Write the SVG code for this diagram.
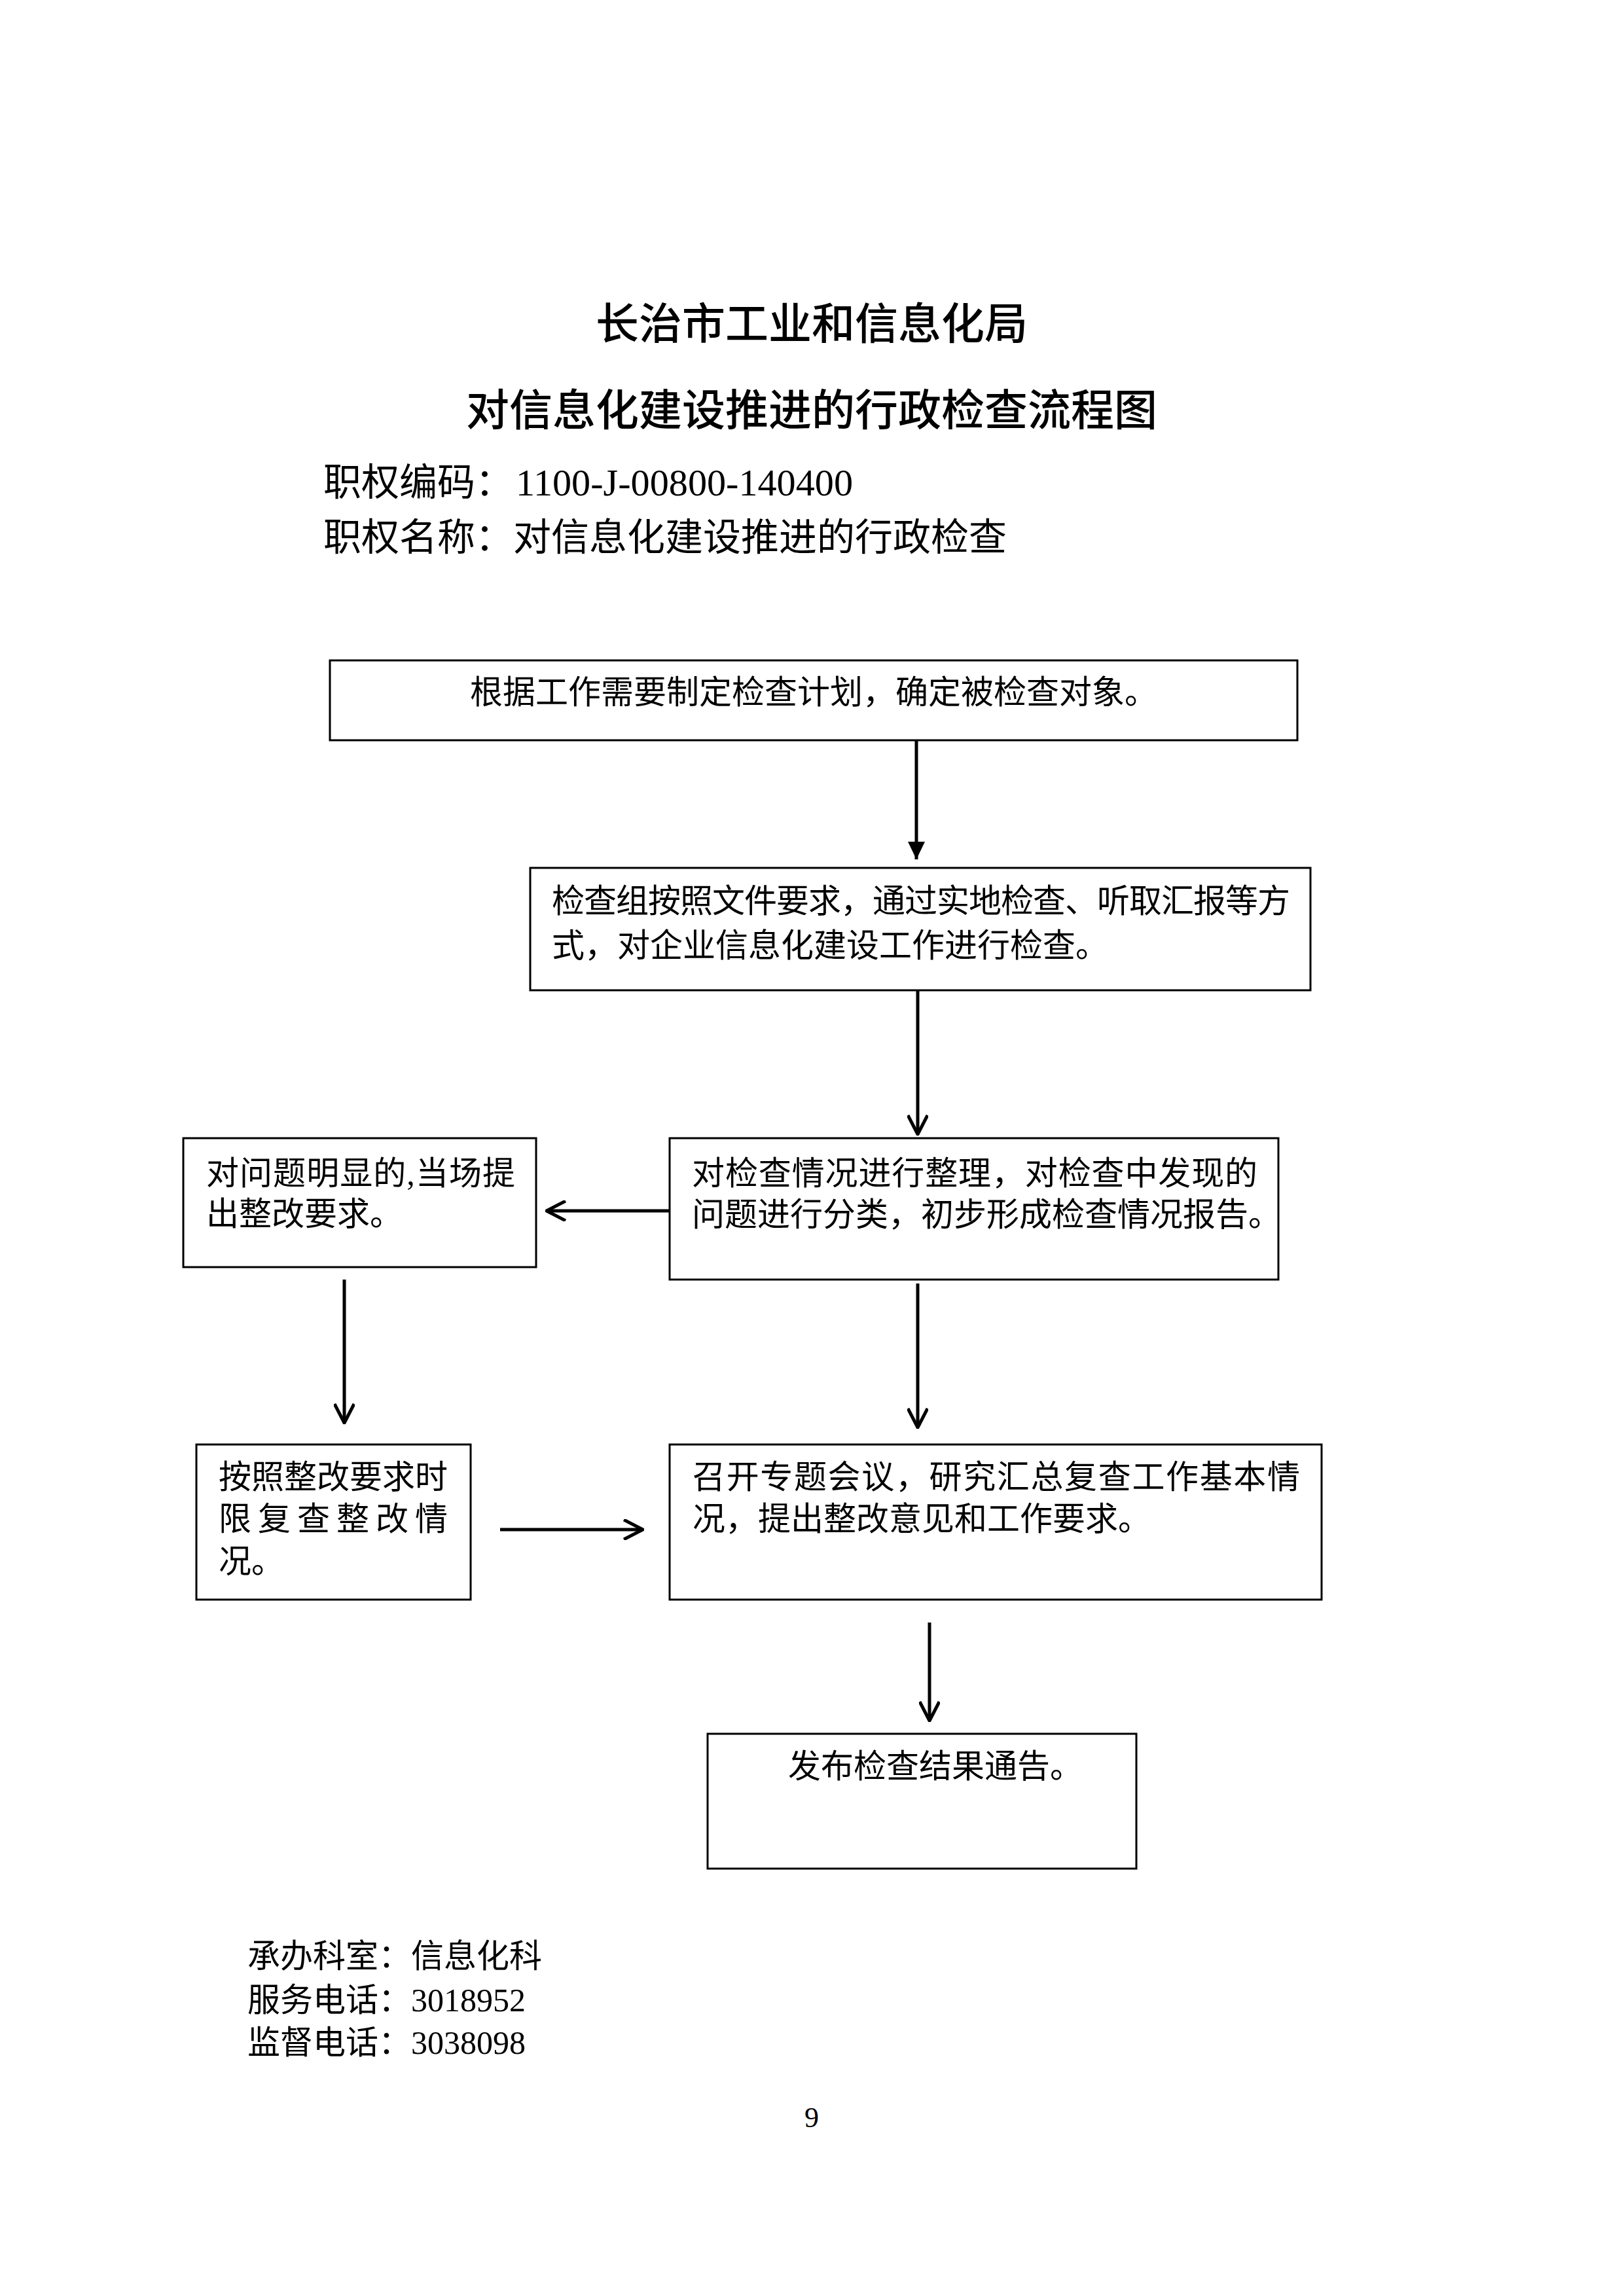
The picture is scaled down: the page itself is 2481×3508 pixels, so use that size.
<svg xmlns="http://www.w3.org/2000/svg" width="2481" height="3508" viewBox="0 0 2481 3508">
<style>
.bg{fill:#ffffff}
.box{fill:#ffffff;stroke:#000000;stroke-width:3}
.t{font-family:"Liberation Serif","Noto Sans CJK SC",serif;font-size:50px;fill:#000000}
.title{font-family:"Noto Sans CJK SC","Liberation Sans",sans-serif;font-size:66px;font-weight:500;fill:#000000;text-anchor:middle}
.sub{font-family:"Liberation Serif","Noto Sans CJK SC",serif;font-size:58px;fill:#000000}
.pg{font-family:"Liberation Serif","Noto Sans CJK SC",serif;font-size:44px;fill:#000000;text-anchor:middle}
.ln{fill:none;stroke:#000000;stroke-width:5}
.open{marker-end:url(#openArrow)}
.solid{marker-end:url(#solidArrow)}
</style>
<defs>
<marker id="openArrow" viewBox="0 0 32 32" refX="30" refY="16" markerWidth="32" markerHeight="32" markerUnits="userSpaceOnUse" orient="auto">
<path d="M1,1 L30,16 L1,31" fill="none" stroke="#000000" stroke-width="5" stroke-linejoin="round"/>
</marker>
<marker id="solidArrow" viewBox="0 0 28 28" refX="27" refY="14" markerWidth="28" markerHeight="28" markerUnits="userSpaceOnUse" orient="auto">
<path d="M0,1 L27,14 L0,27 Z" fill="#000000"/>
</marker>
</defs>
<rect class="bg" x="0" y="0" width="2481" height="3508"/>

<g id="header">
<text class="title" x="1240" y="518">长治市工业和信息化局</text>
<text class="title" x="1240" y="650">对信息化建设推进的行政检查流程图</text>
<text class="sub" x="494" y="757">职权编码：<tspan x="788" textLength="515" lengthAdjust="spacingAndGlyphs">1100-J-00800-140400</tspan></text>
<text class="sub" x="494" y="841">职权名称：对信息化建设推进的行政检查</text>
</g>

<g id="node1">
<rect class="box" x="504" y="1009" width="1478" height="122"/>
<text class="t" x="1243" y="1075" text-anchor="middle">根据工作需要制定检查计划，确定被检查对象。</text>
</g>

<g id="node2">
<rect class="box" x="810" y="1326" width="1192" height="187"/>
<text class="t" x="843" y="1394" textLength="1128">检查组按照文件要求，通过实地检查、听取汇报等方</text>
<text class="t" x="843" y="1462">式，对企业信息化建设工作进行检查。</text>
</g>

<g id="node3">
<rect class="box" x="1023" y="1739" width="930" height="216"/>
<text class="t" x="1057" y="1810" textLength="864">对检查情况进行整理，对检查中发现的</text>
<text class="t" x="1057" y="1873">问题进行分类，初步形成检查情况报告。</text>
</g>

<g id="node4">
<rect class="box" x="280" y="1739" width="539" height="197"/>
<text class="t" x="315" y="1810" textLength="472">对问题明显的,当场提</text>
<text class="t" x="315" y="1872">出整改要求。</text>
</g>

<g id="node5">
<rect class="box" x="300" y="2207" width="419" height="237"/>
<text class="t" x="334" y="2274">按照整改要求时</text>
<text class="t" x="334" y="2338" letter-spacing="10">限复查整改情</text>
<text class="t" x="334" y="2403">况。</text>
</g>

<g id="node6">
<rect class="box" x="1023" y="2207" width="996" height="237"/>
<text class="t" x="1058" y="2274" textLength="928">召开专题会议，研究汇总复查工作基本情</text>
<text class="t" x="1058" y="2338">况，提出整改意见和工作要求。</text>
</g>

<g id="node7">
<rect class="box" x="1081" y="2649" width="655" height="206"/>
<text class="t" x="1204" y="2716">发布检查结果通告。</text>
</g>

<g id="connectors">
<line class="ln solid" x1="1400" y1="1132" x2="1400" y2="1313"/>
<line class="ln open" x1="1402" y1="1513" x2="1402" y2="1733"/>
<line class="ln open" x1="1022" y1="1850" x2="835" y2="1850"/>
<line class="ln open" x1="526" y1="1955" x2="526" y2="2174"/>
<line class="ln open" x1="1402" y1="1961" x2="1402" y2="2181"/>
<line class="ln open" x1="764" y1="2337" x2="982" y2="2337"/>
<line class="ln open" x1="1420" y1="2479" x2="1420" y2="2629"/>
</g>

<g id="footer">
<text class="t" x="378" y="3006">承办科室：信息化科</text>
<text class="t" x="378" y="3073">服务电话：3018952</text>
<text class="t" x="378" y="3138">监督电话：3038098</text>
<text class="pg" x="1240" y="3250">9</text>
</g>
</svg>
